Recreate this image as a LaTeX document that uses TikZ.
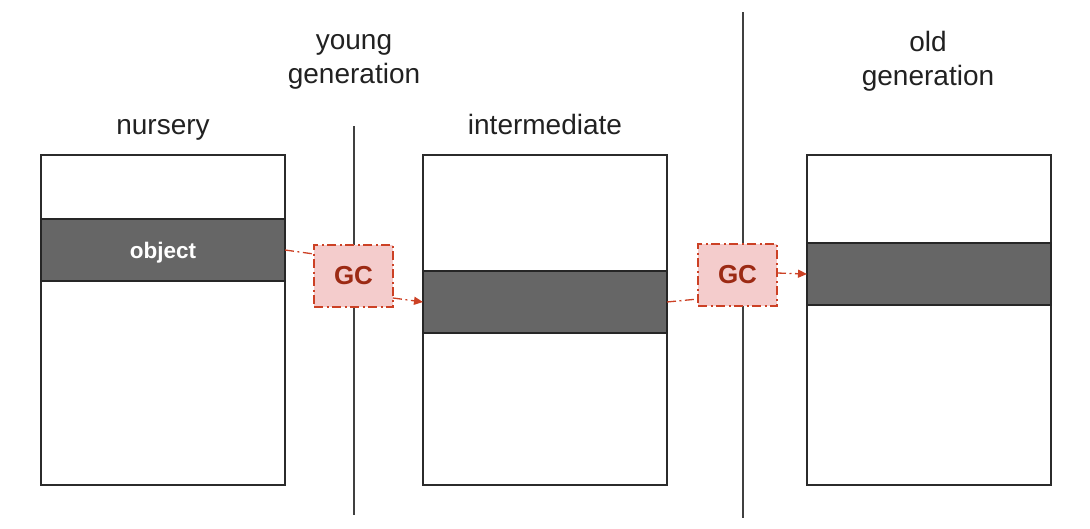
\documentclass[tikz,border=0pt]{standalone}
\usepackage{fontspec}
\setmainfont{Liberation Sans}
\usetikzlibrary{arrows.meta,calc}
\definecolor{bandgray}{HTML}{666666}
\definecolor{edgegray}{HTML}{2B2B2B}
\definecolor{gcfill}{HTML}{F4CCCC}
\definecolor{gcedge}{HTML}{CC4125}
\definecolor{gctext}{HTML}{9C2A14}
\tikzset{
  heap/.style={draw=edgegray, line width=1.3pt, fill=white, anchor=north west, inner sep=0, outer sep=0, minimum width=244pt, minimum height=330pt},
  band/.style={draw=black!85, line width=1.3pt, fill=bandgray, anchor=north west, inner sep=0, outer sep=0, minimum width=244pt, minimum height=62pt, text=white, text depth=0pt, font=\fontsize{22.5}{26}\selectfont\bfseries},
  gcbox/.style={draw=gcedge, line width=1.3pt, fill=gcfill, dash pattern=on 9pt off 3.5pt on 2pt off 3.5pt, inner sep=0, outer sep=0, minimum width=79pt, minimum height=62pt, text=gctext, font=\fontsize{26}{30}\selectfont\bfseries},
  flow/.style={draw=gcedge, line width=1.3pt, dash pattern=on 9pt off 3.5pt on 2pt off 3.5pt},
  flowarrow/.style={flow, -{Triangle[length=9pt,width=8pt]}},
  divider/.style={draw=black!75, line width=1.5pt},
  lbl/.style={font=\fontsize{28}{34}\selectfont, text=black!87, align=center, inner sep=0},
}
\begin{document}
\begin{tikzpicture}[x=1pt,y=-1pt]
\useasboundingbox (0,0) rectangle (1090,528);
% dividers
\coordinate (d1t) at (354,126);
\coordinate (d1b) at (354,515);
\coordinate (d2t) at (743,12);
\coordinate (d2b) at (743,518);
\draw[divider] (d1t) -- (d1b);
\draw[divider] (d2t) -- (d2b);
% heaps
\node[heap] (nursery) at (41,155) {};
\node[heap] (inter) at (423,155) {};
\node[heap] (old) at (807,155) {};
\node[band] (band1) at (41,219) {object};
\node[band] (band2) at (423,271) {};
\node[band] (band3) at (807,243) {};
% labels
\node[lbl, anchor=base] (lnursery) at (163,134) {nursery};
\node[lbl] (lyoung) at (354,62) {young\\generation};
\node[lbl, anchor=base] (linter) at (545,134) {intermediate};
\node[lbl] (lold) at (928,61) {old\\generation};
% GC boxes
\node[gcbox] (gc1) at (353.5,276) {GC};
\node[gcbox] (gc2) at (737.5,275) {GC};
% flows
\draw[flow] (band1.east) -- ([yshift=22pt]gc1.west);
\draw[flowarrow] ([yshift=-22pt]gc1.east) -- (band2.west);
\draw[flow] (band2.east) -- ([yshift=-24pt]gc2.west);
\draw[flowarrow] ([yshift=2pt]gc2.east) -- (band3.west);
\end{tikzpicture}
\end{document}
